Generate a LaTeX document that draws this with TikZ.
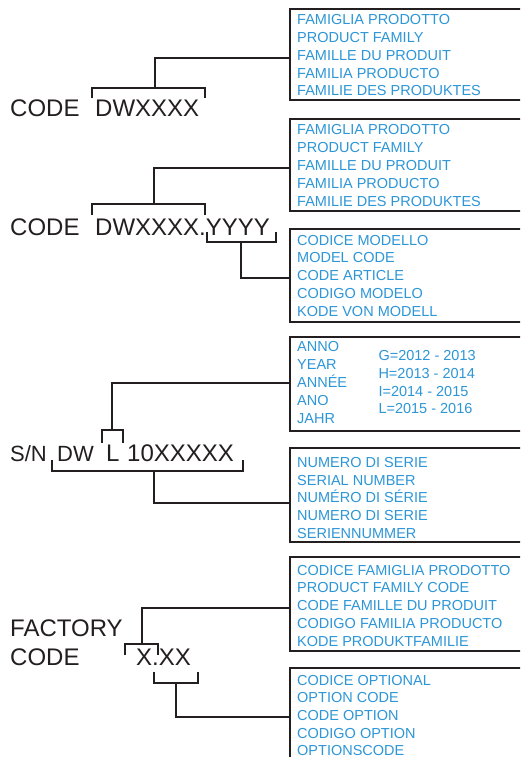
\documentclass[tikz,border=0pt]{standalone}
\usepackage{fontspec}
\setmainfont{Liberation Sans}
\definecolor{ink}{RGB}{35,31,32}
\definecolor{lbl}{RGB}{45,150,215}
\tikzset{
  ln/.style={draw=ink, line width=1.9pt},
  box/.style={draw=ink, line width=1.9pt, rectangle, inner sep=0pt, outer sep=0pt, anchor=north west, minimum width=250pt},
  bk/.style={text=ink, font=\fontsize{24}{24}\selectfont, inner sep=0pt, anchor=base west},
  bks/.style={bk, font=\fontsize{22}{22}\selectfont},
  bl/.style={text=lbl, font=\fontsize{14.5}{14.5}\selectfont, inner sep=0pt, anchor=base west},
}
\begin{document}
\begin{tikzpicture}[x=1pt,y=-1pt]
\useasboundingbox (0,0) rectangle (520,757);
\clip (0,0) rectangle (520,757);
\fill[white] (0,0) rectangle (520,757);

% ---------- boxes ----------
\node[box, minimum height=91pt]   (b1) at (290,9) {};
\node[box, minimum height=91.7pt] (b2) at (290,119) {};
\node[box, minimum height=92.7pt] (b3) at (290,229) {};
\node[box, minimum height=94pt]   (b4) at (290,336.7) {};
\node[box, minimum height=94pt]   (b5) at (290,448) {};
\node[box, minimum height=93.4pt] (b6) at (290,557.3) {};
\node[box, minimum height=110pt]  (b7) at (290,668.3) {};

% ---------- box texts ----------
\foreach \t [count=\i] in {FAMIGLIA PRODOTTO,PRODUCT FAMILY,FAMILLE DU PRODUIT,FAMILIA PRODUCTO,FAMILIE DES PRODUKTES}
  \node[bl] (b1t\i) at (297,{25+17.75*(\i-1)}) {\t};
\foreach \t [count=\i] in {FAMIGLIA PRODOTTO,PRODUCT FAMILY,FAMILLE DU PRODUIT,FAMILIA PRODUCTO,FAMILIE DES PRODUKTES}
  \node[bl] (b2t\i) at (297,{135+17.75*(\i-1)}) {\t};
\foreach \t [count=\i] in {CODICE MODELLO,MODEL CODE,CODE ARTICLE,CODIGO MODELO,KODE VON MODELL}
  \node[bl] (b3t\i) at (297,{245+17.75*(\i-1)}) {\t};
\foreach \t [count=\i] in {ANNO,YEAR,ANNÉE,ANO,JAHR}
  \node[bl] (b4t\i) at (297,{351.7+17.9*(\i-1)}) {\t};
\foreach \t [count=\i] in {G=2012 - 2013,H=2013 - 2014,I=2014 - 2015,L=2015 - 2016}
  \node[bl] (b4y\i) at (378.3,{360.7+17.75*(\i-1)}) {\t};
\foreach \t [count=\i] in {NUMERO DI SERIE,SERIAL NUMBER,NUMÉRO DI SÉRIE,NUMERO DI SERIE,SERIENNUMMER}
  \node[bl] (b5t\i) at (297,{467.3+17.7*(\i-1)}) {\t};
\foreach \t [count=\i] in {CODICE FAMIGLIA PRODOTTO,PRODUCT FAMILY CODE,CODE FAMILLE DU PRODUIT,CODIGO FAMILIA PRODUCTO,KODE PRODUKTFAMILIE}
  \node[bl] (b6t\i) at (297,{575+17.75*(\i-1)}) {\t};
\foreach \t [count=\i] in {CODICE OPTIONAL,OPTION CODE,CODE OPTION,CODIGO OPTION,OPTIONSCODE}
  \node[bl] (b7t\i) at (297,{685+17.7*(\i-1)}) {\t};

% ---------- code texts ----------
\node[bk] (c1a) at (10,117) {CODE};
\node[bk] (c1b) at (95,117) {DWXXXX};
\node[bk] (c2a) at (10,235) {CODE};
\node[bk] (c2b) at (95,235) {DWXXXX.YYYY};
\node[bks] (c3a) at (10,461.7) {S/N};
\node[bks] (c3b) at (57,461.7) {DW};
\node[bk] (c3c) at (106,461.7) {L};
\node[bk] (c3d) at (127,461.7) {10XXXXX};
\node[bk] (c4a) at (10,636.7) {FACTORY};
\node[bk] (c4b) at (10,665) {CODE};
\node[bk] (c4c) at (136,665) {X.XX};

% ---------- brackets and connectors ----------
% 1
\draw[ln] (92.3,98.3) -- (92.3,88.3) -- (204.7,88.3) -- (204.7,98.3);
\coordinate (k1) at (155,88.3);
\coordinate (j1) at (155,58.3);
\draw[ln] (k1) -- (j1) -- (j1 -| b1.west);
% 2 upper
\draw[ln] (92.3,215) -- (92.3,204.3) -- (205,204.3) -- (205,215);
\coordinate (k2) at (154,204.3);
\coordinate (j2) at (154,168.3);
\draw[ln] (k2) -- (j2) -- (j2 -| b2.west);
% 2 lower
\draw[ln] (206.7,232.3) -- (206.7,242.3) -- (276,242.3) -- (276,232.3);
\coordinate (k3) at (241,242.3);
\coordinate (j3) at (241,277.7);
\draw[ln] (k3) -- (j3) -- (j3 -| b3.west);
% 3 upper (L)
\draw[ln] (101.7,443) -- (101.7,430) -- (122.7,430) -- (122.7,443);
\coordinate (k4) at (112,430);
\coordinate (j4) at (112,383.3);
\draw[ln] (k4) -- (j4) -- (j4 -| b4.west);
% 3 lower
\draw[ln] (51.7,460) -- (51.7,470.7) -- (243,470.7) -- (243,460);
\coordinate (k5) at (154,470.7);
\coordinate (j5) at (154,502.7);
\draw[ln] (k5) -- (j5) -- (j5 -| b5.west);
% 4 upper
\draw[ln] (125,655) -- (125,644.3) -- (157.7,644.3) -- (157.7,655);
\coordinate (k6) at (141.7,644.3);
\coordinate (j6) at (141.7,608.3);
\draw[ln] (k6) -- (j6) -- (j6 -| b6.west);
% 4 lower
\draw[ln] (154.3,671.7) -- (154.3,682.7) -- (198.3,682.7) -- (198.3,671.7);
\coordinate (k7) at (176,682.7);
\coordinate (j7) at (176,716.7);
\draw[ln] (k7) -- (j7) -- (j7 -| b7.west);
\end{tikzpicture}
\end{document}
